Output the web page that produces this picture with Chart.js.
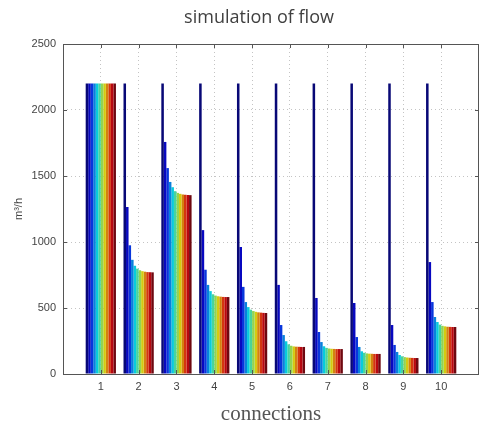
<!DOCTYPE html>
<html>
<head>
<meta charset="utf-8">
<script src="https://cdn.jsdelivr.net/npm/chart.js@4/dist/chart.umd.min.js"></script>
<style>
  body { margin: 0; background: #ffffff; }
  #wrap { width: 480px; height: 428px; }
</style>
</head>
<body>
<div id="wrap"><canvas id="flowChart" width="480" height="428"></canvas></div>
<script>
// connection numbers on the x axis
const connections = [1, 2, 3, 4, 5, 6, 7, 8, 9, 10];
const yTicks = [0, 500, 1000, 1500, 2000, 2500];

// flow per simulation step (m3/h), one array per connection
const conn1  = [2200, 2200, 2200, 2200, 2200, 2200, 2200, 2200, 2200, 2200, 2200, 2200];
const conn2  = [2200, 1265, 975, 865, 820, 798, 786, 779, 775, 772, 771, 770];
const conn3  = [2200, 1758, 1560, 1455, 1415, 1385, 1372, 1365, 1360, 1358, 1356, 1355];
const conn4  = [2200, 1090, 790, 675, 628, 604, 594, 589, 586, 584, 583, 583];
const conn5  = [2200, 962, 660, 545, 507, 487, 477, 471, 467, 465, 463, 462];
const conn6  = [2200, 675, 371, 295, 248, 225, 214, 209, 207, 206, 205, 205];
const conn7  = [2200, 576, 318, 242, 210, 198, 193, 191, 190, 189, 189, 189];
const conn8  = [2200, 538, 280, 205, 172, 161, 156, 154, 153, 152, 152, 152];
const conn9  = [2200, 371, 220, 167, 144, 134, 128, 125, 123, 122, 121, 121];
const conn10 = [2200, 848, 545, 432, 394, 374, 365, 361, 358, 357, 356, 356];

const groups = [conn1, conn2, conn3, conn4, conn5, conn6, conn7, conn8, conn9, conn10];

// matlab style jet colour, a bit darker like the picture
function jet(t) {
  const clamp = v => Math.max(0, Math.min(1, v));
  const r = clamp(Math.min(4 * t - 1.5, -4 * t + 4.5));
  const g = clamp(Math.min(4 * t - 0.5, -4 * t + 3.5));
  const b = clamp(Math.min(4 * t + 0.5, -4 * t + 2.5));
  const k = 0.8;
  return `rgb(${Math.round(r * 255 * k + 8)}, ${Math.round(g * 255 * k + 8)}, ${Math.round(b * 255 * k + 16)})`;
}

const nSeries = conn1.length;
const datasets = [];
for (let i = 0; i < nSeries; i++) {
  datasets.push({
    label: "step " + (i + 1),
    data: connections.map((c, k) => ({ x: c, y: groups[k][i] })),
    backgroundColor: jet(i / (nSeries - 1)),
    borderWidth: 0,
    categoryPercentage: 0.8,
    barPercentage: 1.0
  });
}

// box around the axes plus inward tick marks, and the title
const boxPlugin = {
  id: "box",
  afterDraw(chart) {
    const ctx = chart.ctx;
    const a = chart.chartArea;
    const xs = chart.scales.x, ys = chart.scales.y;
    ctx.save();
    ctx.strokeStyle = "#555";
    ctx.lineWidth = 1;
    ctx.strokeRect(Math.round(a.left) + 0.5, Math.round(a.top) + 0.5,
      Math.round(a.right - a.left) - 1, Math.round(a.bottom - a.top));
    ctx.beginPath();
    connections.forEach(c => {
      const px = Math.round(xs.getPixelForValue(c)) + 0.5;
      ctx.moveTo(px, a.bottom); ctx.lineTo(px, a.bottom - 4);
      ctx.moveTo(px, a.top); ctx.lineTo(px, a.top + 4);
    });
    yTicks.forEach(v => {
      const py = Math.round(ys.getPixelForValue(v)) + 0.5;
      ctx.moveTo(a.left, py); ctx.lineTo(a.left + 4, py);
      ctx.moveTo(a.right, py); ctx.lineTo(a.right - 4, py);
    });
    ctx.stroke();

    ctx.fillStyle = "#404040";
    ctx.font = "18px 'Open Sans'";
    ctx.textAlign = "center";
    ctx.textBaseline = "middle";
    ctx.fillText("simulation of flow", 259, 18);
    ctx.restore();
  }
};

const ctx = document.getElementById("flowChart").getContext("2d");
new Chart(ctx, {
  type: "bar",
  data: { datasets: datasets },
  options: {
    responsive: false,
    animation: false,
    layout: { padding: { top: 44, right: 1, left: 0, bottom: 0 } },
    plugins: {
      legend: { display: false },
      tooltip: { enabled: false },
      title: { display: false }
    },
    scales: {
      x: {
        type: "linear",
        min: 0,
        max: 11,
        offset: false,
        afterBuildTicks: (scale) => {
          scale.ticks = connections.map(c => ({ value: c }));
        },
        afterFit: (scale) => { scale.height = 54; },
        ticks: {
          padding: 6,
          color: "#444",
          font: { family: "'Liberation Sans', Arial", size: 11 },
          callback: (v) => String(v)
        },
        grid: { color: "#c4c4c4", drawTicks: false, offset: false },
        border: { display: false, dash: [1, 3] },
        title: {
          display: true,
          text: "connections",
          color: "#555",
          font: { family: "'Liberation Serif', 'Times New Roman', serif", size: 21 },
          padding: { top: 0, bottom: 1 }
        }
      },
      y: {
        min: 0,
        max: 2500,
        afterBuildTicks: (scale) => {
          scale.ticks = yTicks.map(v => ({ value: v }));
        },
        afterFit: (scale) => { scale.width = 63; },
        ticks: {
          padding: 7,
          color: "#444",
          font: { family: "'Liberation Sans', Arial", size: 11 },
          callback: (v) => String(v)
        },
        grid: { color: "#c4c4c4", drawTicks: false },
        border: { display: false, dash: [1, 3] },
        title: {
          display: true,
          text: "m³/h",
          color: "#444",
          font: { family: "'Liberation Sans', Arial", size: 11 },
          padding: { top: 12, bottom: 0 }
        }
      }
    }
  },
  plugins: [boxPlugin]
});
</script>
</body>
</html>
